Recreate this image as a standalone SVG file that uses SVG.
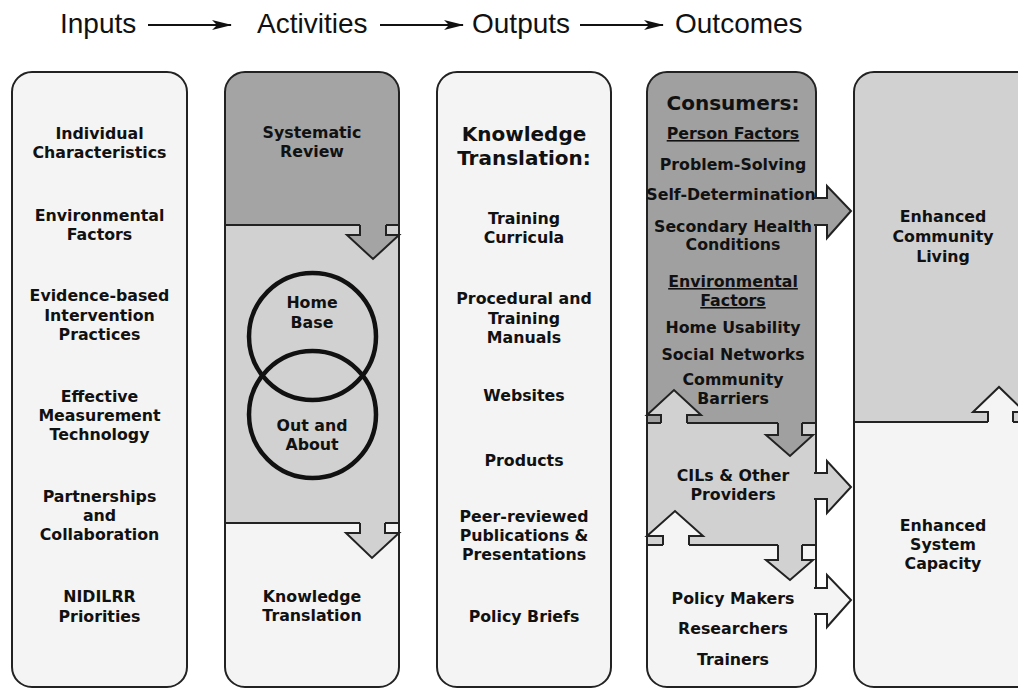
<svg xmlns="http://www.w3.org/2000/svg" width="1018" height="689" viewBox="0 0 1018 689">
  <style>
    .hdr { font-family: "Liberation Sans", Arial, sans-serif; font-size: 28px; fill: #111; }
    .t { font-family: "DejaVu Sans", Verdana, sans-serif; font-weight: bold; font-size: 15.8px; fill: #111; text-anchor: middle; }
    .big { font-size: 20px; }
    .u { text-decoration: underline; }
    .outline { fill: none; stroke: #222; stroke-width: 2; }
    .sep { stroke: #222; stroke-width: 2; fill: none; }
    .arr { stroke: #222; stroke-width: 2; stroke-linejoin: miter; }
    .ring { fill: none; stroke: #111; stroke-width: 4.5; }
    .dark { fill: #a4a4a4; }
    .mid { fill: #d1d1d1; }
    .light { fill: #f4f4f4; }
  </style>
  <defs>
    <marker id="head" viewBox="0 0 20 10" refX="19" refY="5" markerWidth="20" markerHeight="10" markerUnits="userSpaceOnUse" orient="auto">
      <path d="M0,0 L20,5 L0,10 L5,5 Z" fill="#111"/>
    </marker>
    <clipPath id="clip2"><rect x="225" y="72" width="174" height="615" rx="20"/></clipPath>
    <clipPath id="clip4"><rect x="647" y="72" width="169" height="615" rx="20"/></clipPath>
    <clipPath id="clip5"><rect x="854" y="72" width="185" height="615" rx="20"/></clipPath>
  </defs>

  <rect width="1018" height="689" fill="#fff"/>

  <!-- header: logic model stages -->
  <g id="header">
    <text class="hdr" x="60" y="33">Inputs</text>
    <text class="hdr" x="257" y="33">Activities</text>
    <text class="hdr" x="472" y="33">Outputs</text>
    <text class="hdr" x="675" y="33">Outcomes</text>
  </g>
  <g id="header-arrows" stroke="#111" stroke-width="2">
    <line x1="148" y1="25" x2="231" y2="25" marker-end="url(#head)"/>
    <line x1="380" y1="25" x2="463" y2="25" marker-end="url(#head)"/>
    <line x1="580" y1="25" x2="663" y2="25" marker-end="url(#head)"/>
  </g>

  <!-- Inputs column -->
  <g id="inputs">
    <rect class="outline" x="12" y="72" width="175" height="615" rx="20" style="fill:#f4f4f4"/>
    <text class="t" x="99.5" y="139">Individual</text>
    <text class="t" x="99.5" y="158">Characteristics</text>
    <text class="t" x="99.5" y="221">Environmental</text>
    <text class="t" x="99.5" y="240">Factors</text>
    <text class="t" x="99.5" y="301">Evidence-based</text>
    <text class="t" x="99.5" y="321">Intervention</text>
    <text class="t" x="99.5" y="340">Practices</text>
    <text class="t" x="99.5" y="402">Effective</text>
    <text class="t" x="99.5" y="421">Measurement</text>
    <text class="t" x="99.5" y="440">Technology</text>
    <text class="t" x="99.5" y="502">Partnerships</text>
    <text class="t" x="99.5" y="521">and</text>
    <text class="t" x="99.5" y="540">Collaboration</text>
    <text class="t" x="99.5" y="602">NIDILRR</text>
    <text class="t" x="99.5" y="622">Priorities</text>
  </g>

  <!-- Activities column -->
  <g id="activities">
    <g clip-path="url(#clip2)">
      <rect class="dark" x="225" y="72" width="174" height="153"/>
      <rect class="mid" x="225" y="225" width="174" height="298"/>
      <rect class="light" x="225" y="523" width="174" height="164"/>
    </g>
    <rect class="outline" x="225" y="72" width="174" height="615" rx="20"/>
    <path class="sep" d="M225,225 H360 M386,225 H399 M225,523 H360 M385,523 H399"/>
    <circle class="ring" cx="312.5" cy="336.5" r="63.5"/>
    <circle class="ring" cx="312.5" cy="414.5" r="63.5"/>
    <text class="t" x="312" y="138">Systematic</text>
    <text class="t" x="312" y="157">Review</text>
    <text class="t" x="312" y="308">Home</text>
    <text class="t" x="312" y="328">Base</text>
    <text class="t" x="312" y="431">Out and</text>
    <text class="t" x="312" y="450">About</text>
    <text class="t" x="312" y="602">Knowledge</text>
    <text class="t" x="312" y="621">Translation</text>
  </g>

  <!-- Outputs column -->
  <g id="outputs">
    <rect class="outline" x="437" y="72" width="174" height="615" rx="20" style="fill:#f4f4f4"/>
    <text class="t big" x="524" y="141">Knowledge</text>
    <text class="t big" x="524" y="165">Translation:</text>
    <text class="t" x="524" y="224">Training</text>
    <text class="t" x="524" y="243">Curricula</text>
    <text class="t" x="524" y="304">Procedural and</text>
    <text class="t" x="524" y="324">Training</text>
    <text class="t" x="524" y="343">Manuals</text>
    <text class="t" x="524" y="401">Websites</text>
    <text class="t" x="524" y="466">Products</text>
    <text class="t" x="524" y="522">Peer-reviewed</text>
    <text class="t" x="524" y="541">Publications &amp;</text>
    <text class="t" x="524" y="560">Presentations</text>
    <text class="t" x="524" y="622">Policy Briefs</text>
  </g>

  <!-- Outcomes column -->
  <g id="outcomes">
    <g clip-path="url(#clip4)">
      <rect x="647" y="72" width="169" height="351" fill="#a0a0a0"/>
      <rect class="mid" x="647" y="423" width="169" height="122"/>
      <rect class="light" x="647" y="545" width="169" height="142"/>
    </g>
    <rect class="outline" x="647" y="72" width="169" height="615" rx="20"/>
    <path class="sep" d="M647,423 H661 M687,423 H778 M802,423 H816 M647,545 H663 M689,545 H778 M802,545 H816"/>
    <text class="t big" x="733" y="110">Consumers:</text>
    <text class="t u" x="733" y="139">Person Factors</text>
    <text class="t" x="733" y="170">Problem-Solving</text>
    <text class="t" x="731" y="200">Self-Determination</text>
    <text class="t" x="733" y="232">Secondary Health</text>
    <text class="t" x="733" y="250">Conditions</text>
    <text class="t u" x="733" y="287">Environmental</text>
    <text class="t u" x="733" y="306">Factors</text>
    <text class="t" x="733" y="333">Home Usability</text>
    <text class="t" x="733" y="360">Social Networks</text>
    <text class="t" x="733" y="385">Community</text>
    <text class="t" x="733" y="404">Barriers</text>
    <text class="t" x="733" y="481">CILs &amp; Other</text>
    <text class="t" x="733" y="500">Providers</text>
    <text class="t" x="733" y="604">Policy Makers</text>
    <text class="t" x="733" y="634">Researchers</text>
    <text class="t" x="733" y="665">Trainers</text>
  </g>

  <!-- Impact column -->
  <g id="impact">
    <g clip-path="url(#clip5)">
      <rect class="mid" x="854" y="72" width="185" height="350"/>
      <rect class="light" x="854" y="422" width="185" height="265"/>
    </g>
    <rect class="outline" x="854" y="72" width="185" height="615" rx="20"/>
    <path class="sep" d="M854,422 H988 M1013,422 H1039"/>
    <text class="t" x="943" y="222">Enhanced</text>
    <text class="t" x="943" y="242">Community</text>
    <text class="t" x="943" y="262">Living</text>
    <text class="t" x="943" y="531">Enhanced</text>
    <text class="t" x="943" y="550">System</text>
    <text class="t" x="943" y="569">Capacity</text>
  </g>

  <!-- block arrows between sections and columns -->
  <g id="connectors" class="arr">
    <path class="dark" d="M360,225 L360,235 L347,235 L373,259 L399,235 L386,235 L386,225"/>
    <path class="mid" d="M360,523 L360,533 L346,533 L372,558 L399,533 L385,533 L385,523"/>
    <path class="mid" d="M661,423 L661,415 L647,415 L674,390 L701,415 L687,415 L687,423"/>
    <path fill="#a0a0a0" d="M778,423 L778,435 L766,435 L790,456 L813,435 L802,435 L802,423"/>
    <path class="light" d="M663,545 L663,536 L647,536 L675,511 L703,536 L689,536 L689,545"/>
    <path class="mid" d="M778,545 L778,560 L766,560 L790,580 L813,560 L802,560 L802,545"/>
    <path fill="#a0a0a0" d="M814,198 L827,198 L827,186 L851,211 L827,238 L827,225 L814,225"/>
    <path class="mid" d="M814,473 L827,473 L827,461 L851,487 L827,513 L827,499 L814,499"/>
    <path class="light" d="M814,588 L827,588 L827,575 L851,600 L827,627 L827,614 L814,614"/>
    <path class="light" d="M988,422 L988,412 L973,412 L999,387 L1025,412 L1013,412 L1013,422"/>
  </g>
</svg>
